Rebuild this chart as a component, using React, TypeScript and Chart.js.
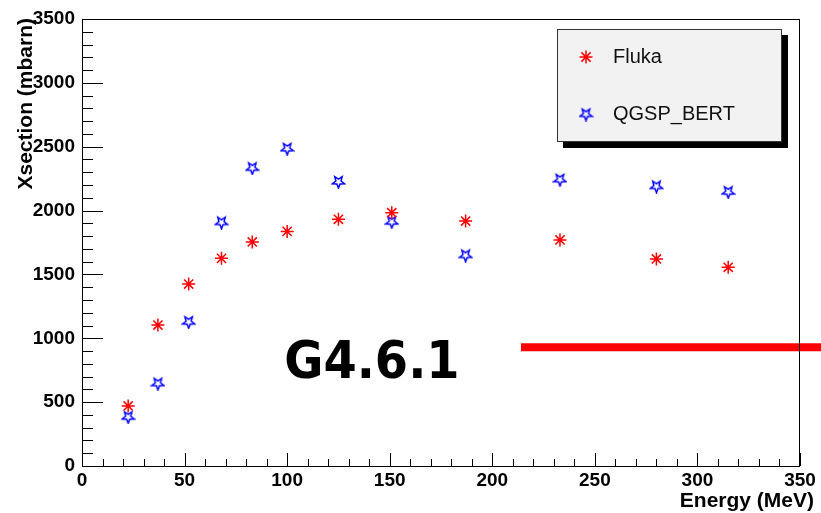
import React, { useEffect, useRef } from "react";
import { Chart, registerables } from "chart.js";

Chart.register(...registerables);

// ---- data ----
const energies = [22.5, 37, 52, 68, 83, 100, 125, 151, 187, 233, 280, 315];
const flukaValues = [470, 1104, 1425, 1626, 1754, 1837, 1932, 1983, 1918, 1770, 1621, 1556];
const qgspValues = [386, 648, 1130, 1910, 2335, 2487, 2228, 1913, 1652, 2245, 2192, 2148];
const seriesNames = ["Fluka", "QGSP_BERT"];
const xTickValues = [0, 50, 100, 150, 200, 250, 300, 350];
const yTickValues = [0, 500, 1000, 1500, 2000, 2500, 3000, 3500];
const xTitle = "Energy (MeV)";
const yTitle = "Xsection (mbarn)";
const annotationText = "G4.6.1";
// annotation anchor in data units
const annotationTextAt = { x: 100, y: 689 };
const annotationLineFrom = { x: 214, y: 930 };

const FONT = "'Liberation Sans', Arial, Helvetica, sans-serif";

function makeStar(color: string): HTMLCanvasElement {
  const c = document.createElement("canvas");
  c.width = 15;
  c.height = 15;
  const ctx = c.getContext("2d")!;
  const cx = 7.5, cy = 7.8, R = 6.3, r = 2.7;
  ctx.beginPath();
  for (let i = 0; i < 10; i++) {
    const ang = Math.PI / 2 + (i * Math.PI) / 5;
    const rad = i % 2 === 0 ? R : r;
    const px = cx + rad * Math.cos(ang);
    const py = cy + rad * Math.sin(ang);
    if (i === 0) ctx.moveTo(px, py);
    else ctx.lineTo(px, py);
  }
  ctx.closePath();
  ctx.strokeStyle = color;
  ctx.lineWidth = 1.5;
  ctx.stroke();
  return c;
}

function drawAsterisk(ctx: CanvasRenderingContext2D, x: number, y: number, rad: number, color: string) {
  ctx.save();
  ctx.strokeStyle = color;
  ctx.lineWidth = 1.5;
  ctx.beginPath();
  for (let i = 0; i < 4; i++) {
    const a = (i * Math.PI) / 4;
    ctx.moveTo(x - rad * Math.cos(a), y - rad * Math.sin(a));
    ctx.lineTo(x + rad * Math.cos(a), y + rad * Math.sin(a));
  }
  ctx.stroke();
  ctx.fillStyle = color;
  ctx.beginPath();
  ctx.arc(x, y, 1.8, 0, Math.PI * 2);
  ctx.fill();
  ctx.restore();
}

export default function App() {
  const ref = useRef<HTMLCanvasElement>(null);

  useEffect(() => {
    const canvas = ref.current!;
    const star = makeStar("#0000ff");

    const decor = {
      id: "decor",
      afterDraw(chart: any) {
        const { ctx, chartArea: a, scales } = chart;
        const xs = scales.x, ys = scales.y;
        ctx.save();

        // red line annotation
        ctx.strokeStyle = "#ff0000";
        ctx.lineWidth = 8;
        ctx.beginPath();
        const ly = ys.getPixelForValue(annotationLineFrom.y);
        ctx.moveTo(xs.getPixelForValue(annotationLineFrom.x), ly);
        ctx.lineTo(chart.width, ly);
        ctx.stroke();

        // frame
        ctx.strokeStyle = "#000";
        ctx.lineWidth = 1;
        ctx.strokeRect(a.left + 0.5, a.top + 0.5, a.right - a.left - 1, a.bottom - a.top);

        // ticks
        ctx.beginPath();
        for (let v = 0; v <= 350; v += 10) {
          const px = Math.round(xs.getPixelForValue(v)) + 0.5;
          const len = v % 50 === 0 ? 13 : 7;
          ctx.moveTo(px, a.bottom);
          ctx.lineTo(px, a.bottom - len);
        }
        for (let v = 0; v <= 3500; v += 100) {
          const py = Math.round(ys.getPixelForValue(v)) + 0.5;
          const len = v % 500 === 0 ? 21 : 11;
          ctx.moveTo(a.left, py);
          ctx.lineTo(a.left + len, py);
        }
        ctx.stroke();

        // axis titles
        ctx.fillStyle = "#000";
        ctx.font = `bold 21px ${FONT}`;
        ctx.textAlign = "right";
        ctx.textBaseline = "alphabetic";
        ctx.fillText(xTitle, 814, 507);
        ctx.save();
        ctx.translate(32, 18);
        ctx.rotate(-Math.PI / 2);
        ctx.fillText(yTitle, 0, 0);
        ctx.restore();

        // big annotation text
        ctx.save();
        ctx.font = "bold 52px 'DejaVu Sans', Verdana, sans-serif";
        ctx.textAlign = "left";
        ctx.textBaseline = "alphabetic";
        const tx = xs.getPixelForValue(annotationTextAt.x);
        const ty = ys.getPixelForValue(annotationTextAt.y);
        ctx.translate(tx - 3, ty);
        ctx.scale(0.92, 1);
        ctx.fillText(annotationText, 0, 0);
        ctx.restore();

        // legend
        const bx = 557, by = 29, bw = 225, bh = 113;
        ctx.fillStyle = "#000";
        ctx.fillRect(bx + 6, by + 6, bw, bh);
        ctx.fillStyle = "#f2f2f2";
        ctx.fillRect(bx, by, bw, bh);
        ctx.strokeStyle = "#333";
        ctx.lineWidth = 1;
        ctx.strokeRect(bx + 0.5, by + 0.5, bw - 1, bh - 1);
        drawAsterisk(ctx, 586, 57, 6.5, "#ff0000");
        ctx.drawImage(star, 586 - 7.5, 114 - 7.5);
        ctx.fillStyle = "#111";
        ctx.font = `20px ${FONT}`;
        ctx.textAlign = "left";
        ctx.textBaseline = "middle";
        ctx.fillText(seriesNames[0], 613, 57);
        ctx.fillText(seriesNames[1], 613, 114);

        ctx.restore();
      },
    };

    const chart = new Chart(canvas, {
      type: "scatter",
      data: {
        datasets: [
          {
            label: seriesNames[0],
            data: energies.map((e, i) => ({ x: e, y: flukaValues[i] })),
            pointStyle: "star",
            radius: 6.5,
            borderColor: "#ff0000",
            backgroundColor: "#ff0000",
            borderWidth: 1.5,
          },
          {
            label: seriesNames[1],
            data: energies.map((e, i) => ({ x: e, y: qgspValues[i] })),
            pointStyle: star as any,
            radius: 7,
            borderColor: "#0000ff",
            backgroundColor: "#0000ff",
          },
        ],
      },
      options: {
        animation: false,
        responsive: false,
        devicePixelRatio: 1,
        layout: { padding: { top: 19, right: 21, left: 0, bottom: 0 } },
        plugins: { legend: { display: false }, tooltip: { enabled: false } },
        scales: {
          x: {
            type: "linear",
            min: 0,
            max: 350,
            grid: { display: false, drawTicks: false },
            border: { display: false },
            afterBuildTicks: (s: any) => {
              s.ticks = xTickValues.map((v) => ({ value: v }));
            },
            afterFit: (s: any) => {
              s.height = 47;
            },
            ticks: {
              color: "#000",
              font: { family: FONT, size: 19, weight: "bold" },
              padding: 3,
              maxRotation: 0,
              autoSkip: false,
              callback: (v: any) => String(v),
            },
          },
          y: {
            type: "linear",
            min: 0,
            max: 3500,
            grid: { display: false, drawTicks: false },
            border: { display: false },
            afterBuildTicks: (s: any) => {
              s.ticks = yTickValues.map((v) => ({ value: v }));
            },
            afterFit: (s: any) => {
              s.width = 82;
            },
            ticks: {
              color: "#000",
              font: { family: FONT, size: 19, weight: "bold" },
              padding: 7,
              autoSkip: false,
              callback: (v: any) => String(v),
            },
          },
        },
      },
      plugins: [decor],
    });
    return () => chart.destroy();
  }, []);

  return (
    <div style={{ position: "absolute", left: 0, top: 0, width: 821, height: 513, background: "#fff" }}>
      <canvas ref={ref} width={821} height={513} />
    </div>
  );
}
